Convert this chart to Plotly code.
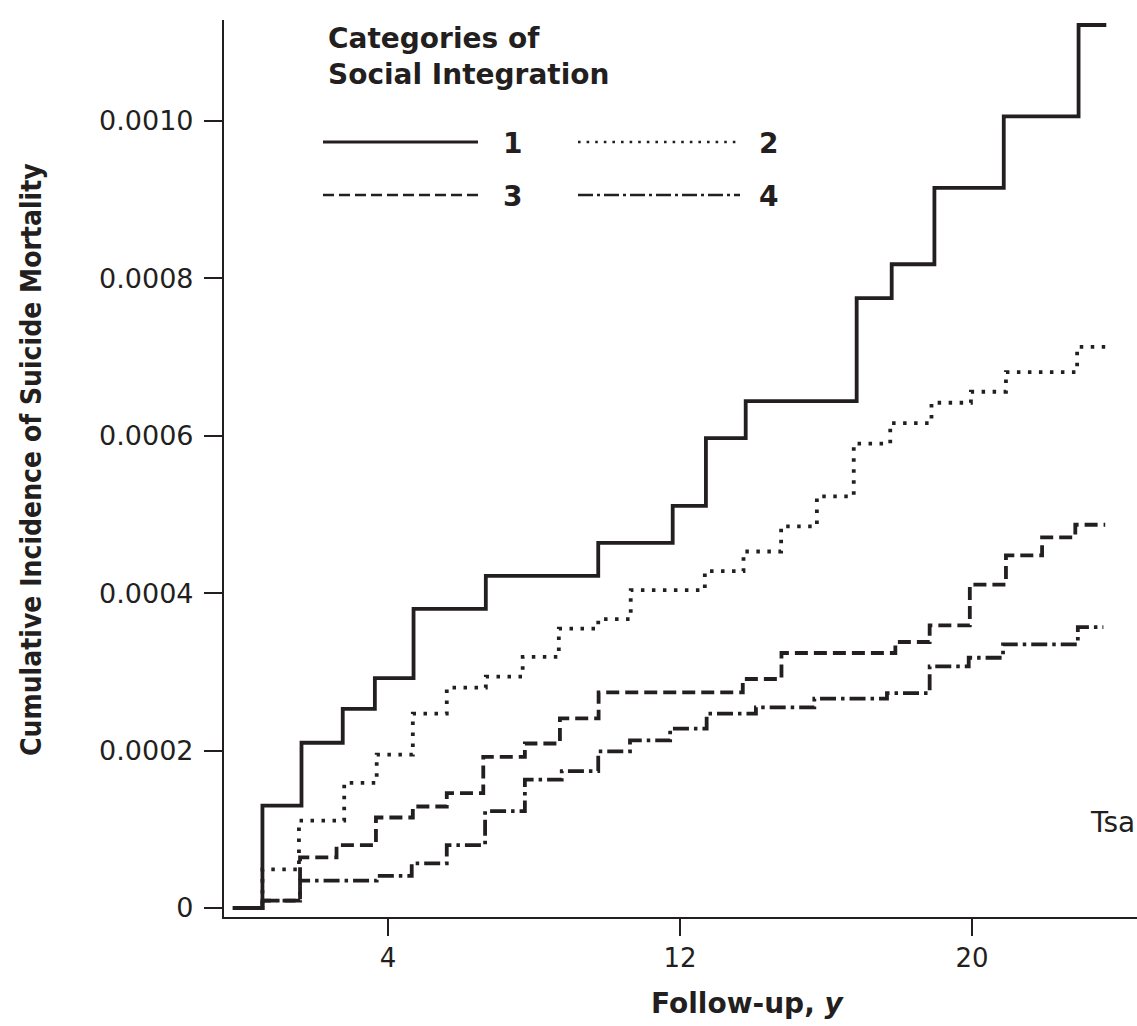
import plotly.graph_objects as go

# ---------------- data ----------------
times1 = [-0.25, 0.56, 1.63, 2.76, 3.64, 4.70, 6.68, 9.76, 11.80, 12.71, 13.80,
          16.84, 17.80, 18.97, 20.87, 22.92, 23.68]
cum1 = [0, 0.000130, 0.000210, 0.000253, 0.000292, 0.000380, 0.000422, 0.000464,
        0.000511, 0.000597, 0.000644, 0.000775, 0.000818, 0.000915, 0.001006,
        0.001122, 0.001122]

times2 = [-0.25, 0.56, 1.56, 2.80, 3.69, 4.68, 5.61, 6.68, 7.69, 8.68, 9.76, 10.65,
          12.68, 13.74, 14.77, 15.75, 16.76, 17.76, 18.89, 19.97, 20.93, 22.88, 23.65]
cum2 = [0, 0.000049, 0.000111, 0.000159, 0.000195, 0.000247, 0.000280, 0.000294,
        0.000319, 0.000355, 0.000367, 0.000404, 0.000428, 0.000453, 0.000485,
        0.000523, 0.000590, 0.000616, 0.000642, 0.000656, 0.000681, 0.000713, 0.000713]

times3 = [-0.25, 0.56, 1.59, 2.59, 3.67, 4.68, 5.61, 6.61, 7.75, 8.71, 9.77, 13.72,
          14.78, 17.90, 18.84, 19.94, 20.93, 21.92, 22.83, 23.65]
cum3 = [0, 0.0000093, 0.0000643, 0.0000800, 0.000115, 0.000129, 0.000146, 0.000192,
        0.000209, 0.000241, 0.000274, 0.000291, 0.000324, 0.000338, 0.000359,
        0.000411, 0.000448, 0.000471, 0.000487, 0.000487]

times4 = [-0.25, 0.56, 1.59, 3.69, 4.65, 5.61, 6.66, 7.75, 8.76, 9.76, 10.63, 11.73,
          12.73, 14.08, 15.68, 17.67, 18.84, 19.91, 20.85, 22.90, 23.60]
cum4 = [0, 0.0000093, 0.0000347, 0.0000407, 0.0000568, 0.0000800, 0.000123, 0.000163,
        0.000174, 0.000199, 0.000213, 0.000228, 0.000247, 0.000255, 0.000266,
        0.000273, 0.000307, 0.000318, 0.000335, 0.000357, 0.000357]

series_names = ["1", "2", "3", "4"]
x_ticks = [4, 12, 20]
y_ticks = [0, 0.0002, 0.0004, 0.0006, 0.0008, 0.0010]
y_tick_labels = ["0", "0.0002", "0.0004", "0.0006", "0.0008", "0.0010"]

legend_title = "Categories of<br>Social Integration"
x_title = "Follow-up, <i>y</i>"
y_title = "Cumulative Incidence of Suicide Mortality"
side_text = "Tsa"

# ---------------- styling ----------------
INK = "#231f20"
W, H = 1137, 1026
ML, MR, MT, MB = 224, 0, 20, 109
PW, PH = W - ML - MR, H - MT - MB

dash_main = {
    "1": "solid",
    "2": "3.5px,7.5px",
    "3": "13px,6px",
    "4": "16px,5px,3.5px,5px",
}
dash_leg = {
    "1": "solid",
    "2": "2.6px,6px",
    "3": "11px,5px",
    "4": "15px,4px,3px,4px",
}

series = [(times1, cum1), (times2, cum2), (times3, cum3), (times4, cum4)]

fig = go.Figure()
# draw dashed/dotted first, solid last
for name, (t, c) in reversed(list(zip(series_names, series))):
    fig.add_trace(go.Scatter(
        x=t, y=c, mode="lines", name=name,
        line=dict(shape="hv", color=INK, width=3.8, dash=dash_main[name]),
        showlegend=False, hoverinfo="skip",
    ))


def px_x(px):
    return (px - ML) / PW


def px_y(py):
    return (MT + PH - py) / PH


shapes = []
annotations = []

# custom 2x2 legend (line keys + labels)
leg_rows = {"1": (142, 323, 478, 512), "2": (142, 578, 738, 768),
            "3": (195, 323, 478, 512), "4": (195, 578, 740, 768)}
for name in series_names:
    py, x0, x1, tx = leg_rows[name]
    shapes.append(dict(type="line", xref="paper", yref="paper",
                       x0=px_x(x0), x1=px_x(x1), y0=px_y(py), y1=px_y(py),
                       line=dict(color=INK, width=3 if name == "1" else 2.6,
                                 dash=dash_leg[name])))
    annotations.append(dict(text=name, xref="paper", yref="paper",
                            x=px_x(tx), y=px_y(py + 1), xanchor="center", yanchor="middle",
                            showarrow=False,
                            font=dict(family="DejaVu Sans", size=28, color=INK, weight="bold")))

annotations.append(dict(text=legend_title, xref="paper", yref="paper",
                        x=px_x(326), y=px_y(20), xanchor="left", yanchor="top",
                        align="left", showarrow=False,
                        font=dict(family="DejaVu Sans", size=28, color=INK, weight="bold")))

annotations.append(dict(text=y_title, xref="paper", yref="paper",
                        x=px_x(31), y=px_y(460), xanchor="center", yanchor="middle",
                        textangle=-90, showarrow=False,
                        font=dict(family="DejaVu Sans Condensed, DejaVu Sans, sans-serif",
                                  size=28, color=INK, weight="bold")))

annotations.append(dict(text=x_title, xref="paper", yref="paper",
                        x=px_x(748), y=px_y(1004), xanchor="center", yanchor="middle",
                        showarrow=False,
                        font=dict(family="DejaVu Sans", size=28, color=INK, weight="bold")))

annotations.append(dict(text=side_text, xref="paper", yref="paper",
                        x=px_x(1088), y=px_y(822), xanchor="left", yanchor="middle",
                        showarrow=False,
                        font=dict(family="DejaVu Sans", size=28, color=INK)))

x_range = [(ML - 242) / 36.5, (W - MR - 242) / 36.5]
y_range = [(908 - (MT + PH)) / 787000, (908 - MT) / 787000]

fig.update_layout(
    width=W, height=H,
    margin=dict(l=ML, r=MR, t=MT, b=MB, pad=0),
    paper_bgcolor="white", plot_bgcolor="white",
    showlegend=False,
    shapes=shapes,
    annotations=annotations,
    xaxis=dict(range=x_range, tickmode="array", tickvals=x_ticks,
               ticktext=[str(v) for v in x_ticks],
               showline=True, linecolor=INK, linewidth=2.2, mirror=False,
               ticks="outside", ticklen=17, tickwidth=2.2, tickcolor=INK,
               showgrid=False, zeroline=False,
               tickfont=dict(family="DejaVu Sans", size=26, color=INK),
               ticklabelstandoff=0),
    yaxis=dict(range=y_range, tickmode="array", tickvals=y_ticks,
               ticktext=y_tick_labels,
               showline=True, linecolor=INK, linewidth=2.2, mirror=False,
               ticks="outside", ticklen=18, tickwidth=2.2, tickcolor=INK,
               showgrid=False, zeroline=False,
               tickfont=dict(family="DejaVu Sans", size=27, color=INK),
               ticklabelstandoff=5),
)

fig.write_html("out.html")
